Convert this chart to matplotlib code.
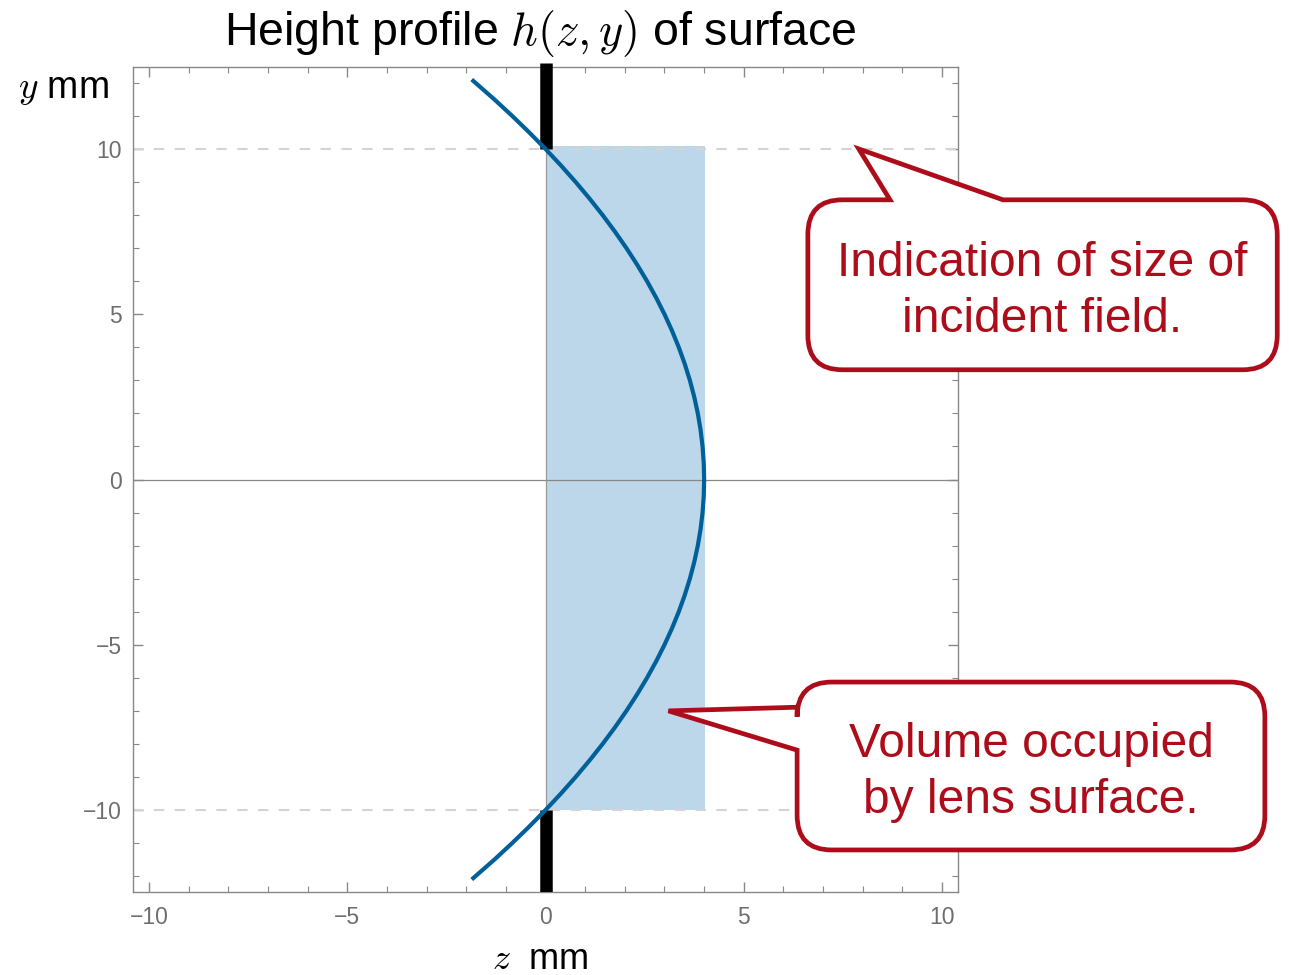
import numpy as np
import matplotlib.pyplot as plt
from matplotlib.path import Path
from matplotlib.patches import PathPatch, Rectangle

plt.rcParams['font.family'] = ['Liberation Sans', 'DejaVu Sans']
plt.rcParams['mathtext.fontset'] = 'cm'

# surface profile (y in mm, z in mm)
surf_y = [-12.1, -11.5, -11, -10.5, -10, -9.5, -9, -8.5, -8, -7.5, -7, -6.5, -6,
          -5.5, -5, -4.5, -4, -3.5, -3, -2.5, -2, -1.5, -1, -0.5, 0,
          0.5, 1, 1.5, 2, 2.5, 3, 3.5, 4, 4.5, 5, 5.5, 6, 6.5, 7, 7.5, 8,
          8.5, 9, 9.5, 10, 10.5, 11, 11.5, 12.1]
surf_z = [-1.86, -1.29, -0.84, -0.41, 0.0, 0.39, 0.76, 1.11, 1.44, 1.75, 2.04, 2.31, 2.56,
          2.79, 3.0, 3.19, 3.36, 3.51, 3.64, 3.75, 3.84, 3.91, 3.96, 3.99, 4.0,
          3.99, 3.96, 3.91, 3.84, 3.75, 3.64, 3.51, 3.36, 3.19, 3.0, 2.79, 2.56, 2.31, 2.04,
          1.75, 1.44, 1.11, 0.76, 0.39, 0.0, -0.41, -0.84, -1.29, -1.86]

field_half = 10.0        # half size of incident field
lens_depth = 4.03        # depth of the lens volume
note_field = "Indication of size of\nincident field."
note_lens = "Volume occupied\nby lens surface."
tip_field = (7.9, 10.0)
tip_lens = (3.1, -7.0)

red = '#ad0c1a'
blue = '#00609a'
gray = '#6e6e6e'

fig = plt.figure(figsize=(12.89, 9.75), dpi=100)
ax = fig.add_axes([0.1032, 0.0851, 0.640, 0.8462])
ax.set_xlim(-10.4, 10.4)
ax.set_ylim(-12.48, 12.48)

# shaded lens volume
ax.add_patch(Rectangle((0, -field_half), lens_depth, 2 * field_half + 0.1,
                       facecolor='#bdd7ea', edgecolor='none', zorder=1))

# axes lines
ax.axhline(0, color='#888888', lw=0.9, zorder=2)
ax.axvline(0, color='#999999', lw=0.9, zorder=2)

# dashed field limits
for yy in (field_half, -field_half):
    ax.axhline(yy, color='#d4d4d4', lw=1.5, ls=(0, (5, 5)), zorder=2)

# aperture stops
ax.plot([0, 0], [field_half, 12.6], color='black', lw=9, solid_capstyle='butt',
        zorder=3, clip_on=False)
ax.plot([0, 0], [-field_half, -12.48], color='black', lw=9, solid_capstyle='butt',
        zorder=3)

ax.plot(surf_z, surf_y, color=blue, lw=3, zorder=4, solid_capstyle='butt')

ax.set_xticks([-10, -5, 0, 5, 10])
ax.set_yticks([-10, -5, 0, 5, 10])
ax.set_xticks(np.arange(-10, 11, 1), minor=True)
ax.set_yticks(np.arange(-12, 13, 1), minor=True)
ax.tick_params(which='both', direction='in', top=True, right=True,
               color='#888888', labelcolor=gray, labelsize=16.5)
ax.tick_params(axis='x', pad=10)
ax.tick_params(axis='y', pad=8)
ax.tick_params(which='major', length=7, width=1)
ax.tick_params(which='minor', length=4.5, width=0.8)
for s in ax.spines.values():
    s.set_color('#888888')
    s.set_linewidth(1)

fig.text(0.419, 0.966, r'Height profile $h(z,y)$ of surface', ha='center', va='center',
         fontsize=33.5)
fig.text(0.049, 0.909, r'$y$ mm', ha='center', va='center', fontsize=27)
fig.text(0.419, 0.016, r'$z$  mm', ha='center', va='center', fontsize=26)


def callout(box, tip, base, side, text):
    x0, y0, x1, y1 = box
    r = 0.042
    tx, ty = ax.transAxes.inverted().transform(ax.transData.transform(tip))
    C3 = Path.CURVE3
    L = Path.LINETO
    verts = [(x0 + r, y0), (x1 - r, y0), (x1, y0), (x1, y0 + r),
             (x1, y1 - r), (x1, y1), (x1 - r, y1)]
    codes = [Path.MOVETO, L, C3, C3, L, C3, C3]
    if side == 'top':
        verts += [(base[1], y1), (tx, ty), (base[0], y1)]
        codes += [L, L, L]
    verts += [(x0 + r, y1), (x0, y1), (x0, y1 - r)]
    codes += [L, C3, C3]
    if side == 'left':
        verts += [(x0, base[1]), (tx, ty), (x0, base[0])]
        codes += [L, L, L]
    verts += [(x0, y0 + r), (x0, y0), (x0 + r, y0), (x0 + r, y0)]
    codes += [L, C3, C3, Path.CLOSEPOLY]
    patch = PathPatch(Path(verts, codes), facecolor='white', edgecolor=red, lw=3.4,
                      transform=ax.transAxes, clip_on=False, zorder=10,
                      joinstyle='miter')
    ax.add_patch(patch)
    ax.text((x0 + x1) / 2, (y0 + y1) / 2 - 0.008, text, transform=ax.transAxes,
            ha='center', va='center', color=red, fontsize=34.5, linespacing=1.33,
            zorder=11, clip_on=False)


callout((0.818, 0.633, 1.387, 0.839), tip_field, (0.9176, 1.0545), 'top', note_field)
callout((0.805, 0.051, 1.372, 0.2545), tip_lens, (0.172, 0.224), 'left', note_lens)

fig.savefig('out.png', dpi=100)
